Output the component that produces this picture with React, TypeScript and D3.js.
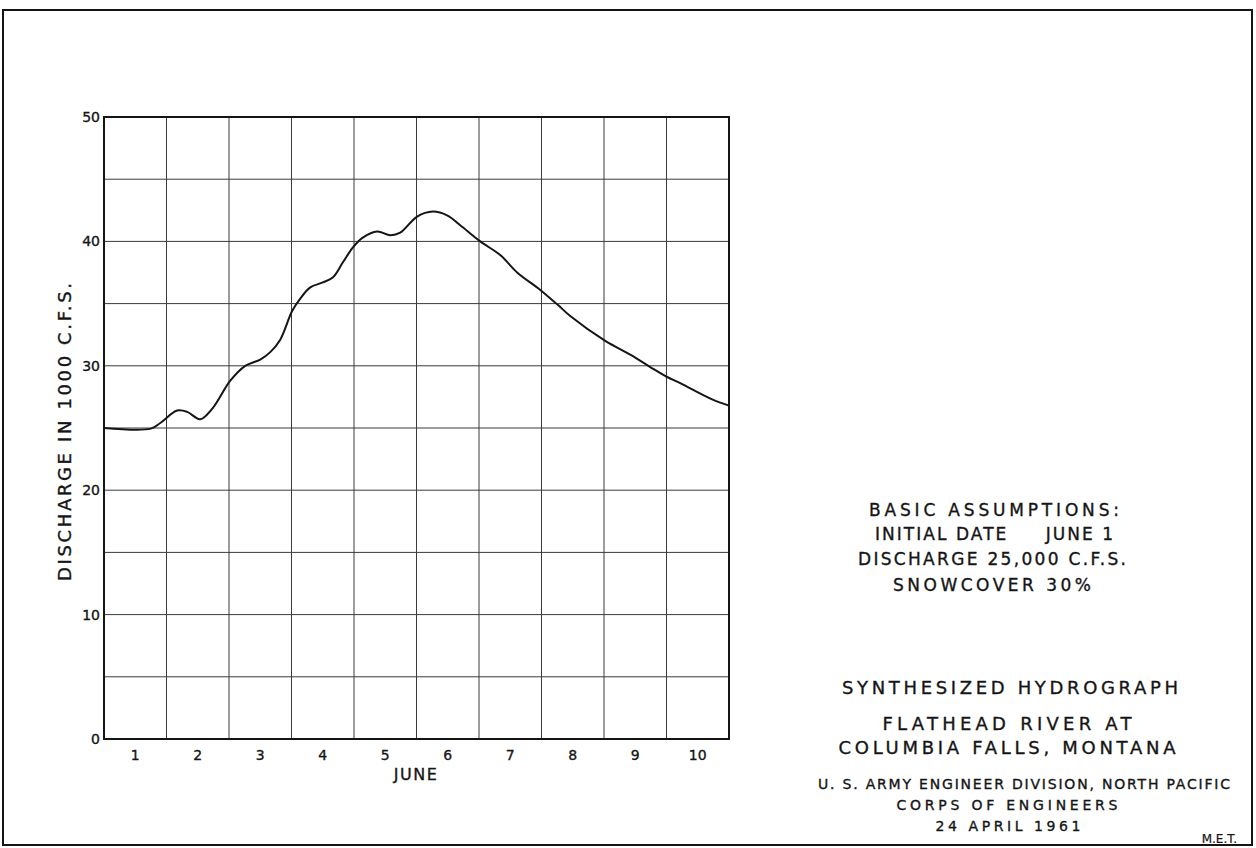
import { useEffect, useRef } from 'react';
import * as d3 from 'd3';

// curve: day position (day n centred at n) and discharge in 1000 cfs
const days = [0.5, 1.25, 1.4, 1.67, 1.83, 2.04, 2.24, 2.52, 2.76, 3.0, 3.16, 3.32, 3.51, 3.64, 3.8, 4.0, 4.16, 4.32, 4.48, 4.64, 4.87, 5.08, 5.24, 5.51, 5.76, 5.99, 6.2, 6.52, 6.84, 7.11, 7.48, 7.76, 7.96, 8.52, 8.92, 9.24, 9.51, 9.72, 10.23, 10.5];
const discharge = [25.0, 24.95, 25.4, 26.4, 26.3, 25.7, 26.6, 28.8, 30.0, 30.5, 31.1, 32.1, 34.4, 35.4, 36.3, 36.7, 37.1, 38.3, 39.5, 40.3, 40.8, 40.5, 40.7, 42.0, 42.4, 42.1, 41.3, 40.0, 38.9, 37.5, 36.1, 34.9, 34.0, 32.0, 30.9, 29.9, 29.1, 28.6, 27.3, 26.8];

const dayTicks = [1, 2, 3, 4, 5, 6, 7, 8, 9, 10];
const dayLabels = ['1', '2', '3', '4', '5', '6', '7', '8', '9', '10'];
const yTicks = [0, 10, 20, 30, 40, 50];
const yGrid = [5, 10, 15, 20, 25, 30, 35, 40, 45];
const dayBounds = [1.5, 2.5, 3.5, 4.5, 5.5, 6.5, 7.5, 8.5, 9.5];

const xTitle = 'JUNE';
const yTitle = 'DISCHARGE IN 1000 C.F.S.';
const assumptions = ['BASIC ASSUMPTIONS:', 'INITIAL DATE     JUNE 1', 'DISCHARGE 25,000 C.F.S.', 'SNOWCOVER 30%'];
const titleLines = ['SYNTHESIZED HYDROGRAPH', 'FLATHEAD RIVER AT', 'COLUMBIA FALLS, MONTANA'];
const creditLines = ['U. S. ARMY ENGINEER DIVISION, NORTH PACIFIC', 'CORPS OF ENGINEERS', '24 APRIL 1961'];
const initials = 'M.E.T.';

const font = '"DejaVu Sans", sans-serif';
const ink = '#151515';

const App = () => {
  const ref = useRef<SVGSVGElement>(null);

  useEffect(() => {
    const svg = d3.select(ref.current);
    svg.selectAll('*').remove();

    const left = 104, right = 729, top = 117, bottom = 739;

    const x = d3.scaleLinear().domain([0.5, 10.5]).range([left, right]);
    const y = d3.scaleLinear().domain([0, 50]).range([bottom, top]);

    svg.append('rect').attr('width', 1256).attr('height', 848).attr('fill', '#fff');

    // sheet border
    svg.append('rect')
      .attr('x', 3).attr('y', 10).attr('width', 1249).attr('height', 835)
      .attr('fill', 'none').attr('stroke', ink).attr('stroke-width', 2);

    const grid = svg.append('g').attr('stroke', '#3a3a3a').attr('stroke-width', 1);
    grid.selectAll('line.h').data(yGrid).enter().append('line')
      .attr('x1', left).attr('x2', right)
      .attr('y1', d => y(d)).attr('y2', d => y(d));
    grid.selectAll('line.v').data(dayBounds).enter().append('line')
      .attr('y1', top).attr('y2', bottom)
      .attr('x1', d => x(d)).attr('x2', d => x(d));

    svg.append('rect')
      .attr('x', left).attr('y', top).attr('width', right - left).attr('height', bottom - top)
      .attr('fill', 'none').attr('stroke', ink).attr('stroke-width', 2);

    const line = d3.line<number>()
      .x((d, i) => x(days[i]))
      .y(d => y(d))
      .curve(d3.curveCatmullRom.alpha(0.5));

    svg.append('path')
      .datum(discharge)
      .attr('fill', 'none')
      .attr('stroke', ink)
      .attr('stroke-width', 2)
      .attr('d', line);

    const label = (sel: any, size: number) =>
      sel.attr('font-family', font).attr('font-size', size).attr('fill', ink)
        .attr('stroke', ink).attr('stroke-width', 0.35)
        .attr('dominant-baseline', 'central');

    // y tick labels
    label(svg.selectAll('text.yt').data(yTicks).enter().append('text')
      .attr('x', left - 4).attr('y', d => y(d))
      .attr('text-anchor', 'end'), 14)
      .text((d: number) => d);

    // x tick labels
    label(svg.selectAll('text.xt').data(dayTicks).enter().append('text')
      .attr('x', d => x(d)).attr('y', 755)
      .attr('text-anchor', 'middle'), 14)
      .text((d: number, i: number) => dayLabels[i]);

    label(svg.append('text')
      .attr('x', 416).attr('y', 774)
      .attr('text-anchor', 'middle')
      .attr('letter-spacing', 1.5), 16)
      .text(xTitle);

    label(svg.append('text')
      .attr('transform', 'translate(64,432) rotate(-90)')
      .attr('text-anchor', 'middle')
      .attr('textLength', 298).attr('lengthAdjust', 'spacing'), 18)
      .text(yTitle);

    const block = (lines: string[], cx: number[], ys: number[], widths: number[], size: number) => {
      lines.forEach((t, i) => {
        label(svg.append('text')
          .attr('x', cx[i]).attr('y', ys[i])
          .attr('text-anchor', 'middle')
          .style('white-space', 'pre')
          .attr('textLength', widths[i]).attr('lengthAdjust', 'spacing'), size)
          .text(t);
      });
    };

    block(assumptions, [994, 994, 992, 992], [510, 534, 559, 585], [250, 238, 268, 198], 17);
    block(titleLines, [1010, 1007, 1007], [687, 723, 747], [336, 249, 337], 18);
    block(creditLines, [1024, 1007, 1008], [784, 805, 826], [412, 221, 145], 14);

    label(svg.append('text')
      .attr('x', 1237).attr('y', 839)
      .attr('text-anchor', 'end'), 12)
      .attr('stroke-width', 0.2)
      .text(initials);
  }, []);

  return (
    <svg ref={ref} width={1256} height={848} style={{ position: 'absolute', left: 0, top: 0 }} />
  );
};

export default App;
